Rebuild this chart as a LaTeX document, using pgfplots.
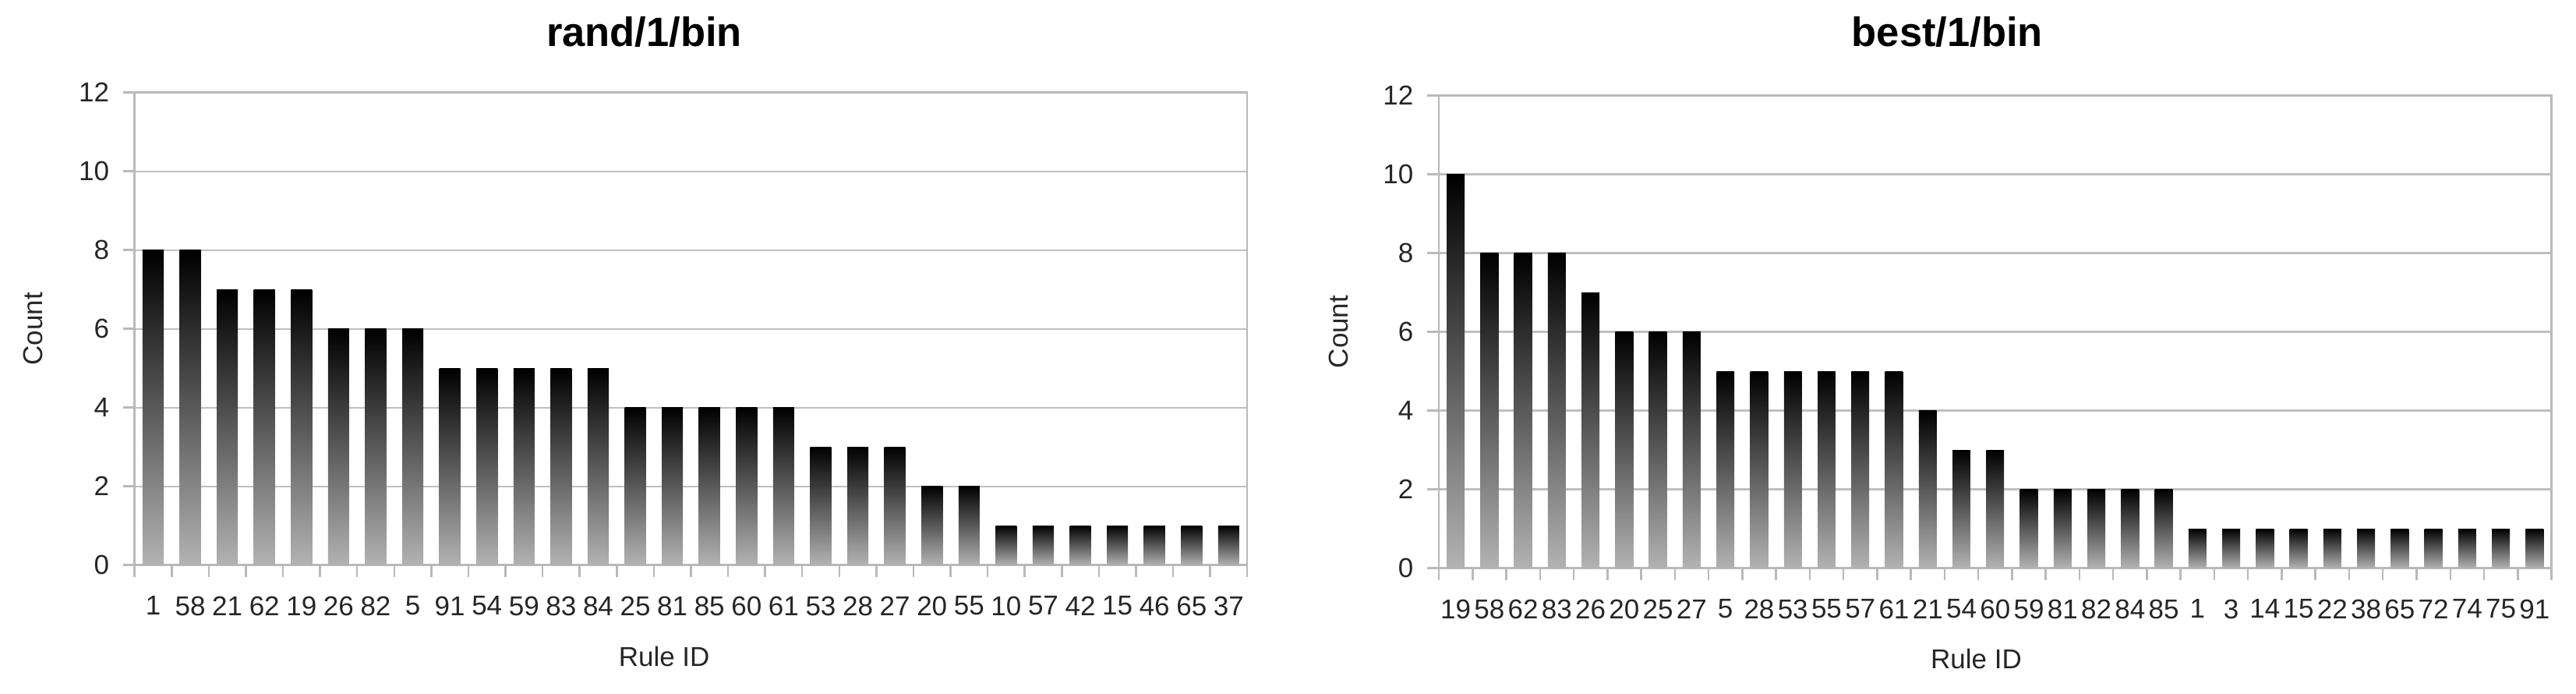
\documentclass[border=0pt]{standalone}
\usepackage{fontspec}
\setmainfont{Liberation Sans}
\usepackage{pgfplots}
\usepackage{pgfplotstable}
\pgfplotsset{compat=1.18}

% rand/1/bin: position, count
\pgfplotstableread{
x y
0 8
1 8
2 7
3 7
4 7
5 6
6 6
7 6
8 5
9 5
10 5
11 5
12 5
13 4
14 4
15 4
16 4
17 4
18 3
19 3
20 3
21 2
22 2
23 1
24 1
25 1
26 1
27 1
28 1
29 1
}\randbin

% best/1/bin
\pgfplotstableread{
x y
0 10
1 8
2 8
3 8
4 7
5 6
6 6
7 6
8 5
9 5
10 5
11 5
12 5
13 5
14 4
15 3
16 3
17 2
18 2
19 2
20 2
21 2
22 1
23 1
24 1
25 1
26 1
27 1
28 1
29 1
30 1
31 1
32 1
}\bestbin

\pgfplotsset{
  countbars/.style={
    scale only axis,
    anchor=south west,
    width=285.5pt, height=121.2pt,
    ymin=0, ymax=12, ytick={0,2,...,12},
    ymajorgrids,
    grid style={gray!50, line width=0.45pt},
    axis line style={gray!55, line width=0.5pt},
    tick style={gray!55, line width=0.5pt},
    tick align=outside,
    xtick pos=bottom, ytick pos=left,
    major tick length=3pt, minor tick length=3pt,
    major x tick style={draw=none},
    /pgf/number format/assume math mode=true,
    ticklabel style={font=\fontsize{7}{8}\selectfont, text=black!85},
    xticklabel style={yshift=-1.5pt},
    label style={font=\fontsize{7}{8}\selectfont, text=black!85},
    every axis title shift=0pt,
    title style={font=\fontsize{10.5}{12}\selectfont\bfseries, anchor=center},
    ylabel style={at={(axis description cs:-0.091,0.5)}, anchor=center, rotate=0},
    xlabel={Rule ID},
    ylabel={Count},
    enlargelimits=false,
    ybar,
  },
  % each bar gets its own black-to-grey shading
  gradbar/.style={draw=none, top color=black, bottom color=gray!60, bar shift=0pt},
}

\begin{document}
\begin{tikzpicture}
\useasboundingbox (0,0) rectangle (661pt,177.8pt);

\begin{axis}[countbars,
    at={(34.54pt,32.86pt)},
    xmin=-0.5, xmax=29.5,
    bar width=0.57,
    xtick={0,...,29},
    minor xtick={-0.5,0.5,...,29.5},
    xticklabels={1,58,21,62,19,26,82,5,91,54,59,83,84,25,81,85,60,61,53,28,27,20,55,10,57,42,15,46,65,37},
    title={rand/1/bin},
    title style={at={(axis description cs:0.458,1.128)}},
    xlabel style={at={(axis description cs:0.476,-0.193)}, anchor=center},
]
\pgfplotsinvokeforeach{0,...,29}{
  \addplot[gradbar] table[x=x, y=y, restrict expr to domain={\coordindex}{#1:#1}] {\randbin};
}
\end{axis}

\begin{axis}[countbars,
    at={(369.2pt,32.1pt)},
    xmin=-0.5, xmax=32.5,
    bar width=0.53,
    xtick={0,...,32},
    minor xtick={-0.5,0.5,...,32.5},
    xticklabels={19,58,62,83,26,20,25,27,5,28,53,55,57,61,21,54,60,59,81,82,84,85,1,3,14,15,22,38,65,72,74,75,91},
    title={best/1/bin},
    title style={at={(axis description cs:0.457,1.134)}},
    xlabel style={at={(axis description cs:0.483,-0.193)}, anchor=center},
    ylabel style={at={(axis description cs:-0.09,0.5)}},
]
\pgfplotsinvokeforeach{0,...,32}{
  \addplot[gradbar] table[x=x, y=y, restrict expr to domain={\coordindex}{#1:#1}] {\bestbin};
}
\end{axis}
\end{tikzpicture}
\end{document}
